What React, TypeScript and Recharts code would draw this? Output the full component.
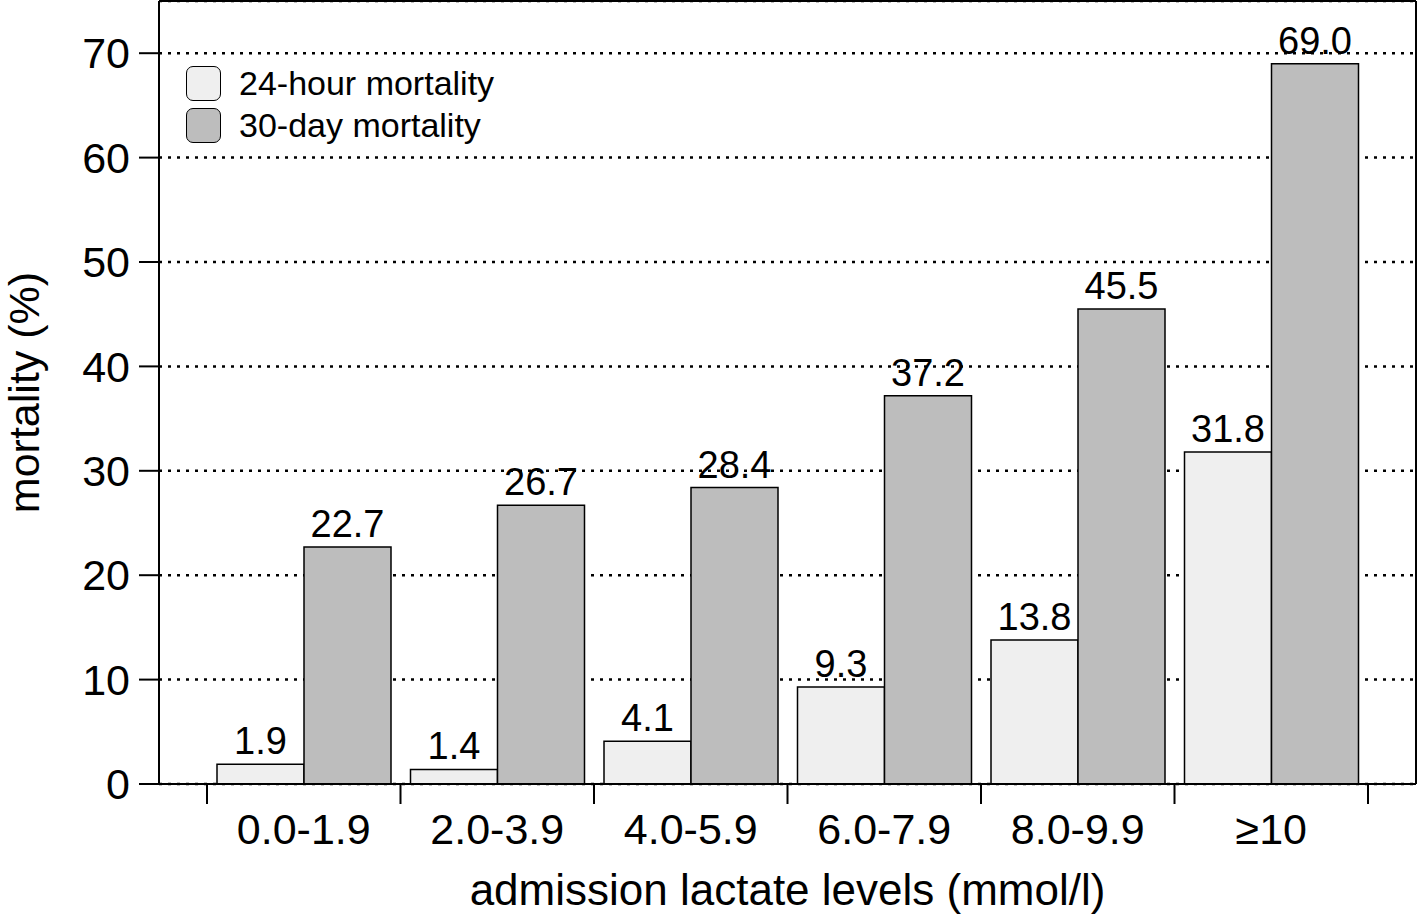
import React from 'react';
import { BarChart, Bar, XAxis, YAxis, CartesianGrid, LabelList, Legend } from 'recharts';

const categories = ['0.0-1.9', '2.0-3.9', '4.0-5.9', '6.0-7.9', '8.0-9.9', '≥10'];
const mortality24h = [1.9, 1.4, 4.1, 9.3, 13.8, 31.8];
const mortality30d = [22.7, 26.7, 28.4, 37.2, 45.5, 69.0];
const yTicks = [0, 10, 20, 30, 40, 50, 60, 70];

const data = categories.map((cat, i) => ({ cat, h24: mortality24h[i], d30: mortality30d[i] }));

const FONT = '"Liberation Sans", Arial, Helvetica, sans-serif';

const CatTick = (props: any) => {
  const { x, y, payload, index, visibleTicksCount } = props;
  const half = payload && typeof payload.offset === 'number' ? payload.offset : 0;
  const axisY = y - 29;
  const isLast = index === (visibleTicksCount ? visibleTicksCount - 1 : categories.length - 1);
  return (
    <g>
      <line x1={x - half} x2={x - half} y1={axisY} y2={axisY + 20} stroke="#000" strokeWidth={2} />
      {isLast && <line x1={x + half} x2={x + half} y1={axisY} y2={axisY + 20} stroke="#000" strokeWidth={2} />}
      <text x={x} y={y} dy="0.71em" textAnchor="middle" fontSize={43} fill="#000" fontFamily={FONT}>
        {payload.value}
      </text>
    </g>
  );
};

const LegendContent = (props: any) => {
  const { payload } = props;
  return (
    <div style={{ fontFamily: FONT }}>
      {(payload || []).map((p: any) => (
        <div key={p.value} style={{ display: 'flex', alignItems: 'center', height: 42 }}>
          <span
            style={{
              display: 'inline-block',
              width: 35,
              height: 35,
              boxSizing: 'border-box',
              border: '1.5px solid #000',
              borderRadius: 7,
              background: p.color,
            }}
          />
          <span style={{ marginLeft: 18, fontSize: 34, color: '#000', lineHeight: '35px' }}>{p.value}</span>
        </div>
      ))}
    </div>
  );
};

export default function App() {
  return (
    <div style={{ position: 'absolute', left: 0, top: 0, background: '#fff' }}>
      <BarChart
        width={1417}
        height={918}
        data={data}
        margin={{ top: 0, right: 0, left: 0, bottom: 0 }}
        barCategoryGap={10}
        barGap={0}
        style={{ fontFamily: FONT }}
      >
        <CartesianGrid vertical={false} stroke="#000" strokeDasharray="3 6" strokeWidth={2.5} />
        <XAxis
          dataKey="cat"
          padding={{ left: 48, right: 48 }}
          height={134}
          tickSize={20}
          tickMargin={9}
          tickLine={false}
          axisLine={{ stroke: '#000', strokeWidth: 2 }}
          tick={<CatTick />}
          interval={0}
          label={{ value: 'admission lactate levels (mmol/l)', position: 'insideBottom', offset: 13, fontSize: 44, fill: '#000' }}
        />
        <XAxis
          xAxisId="top"
          dataKey="cat"
          orientation="top"
          height={1}
          tick={false}
          tickLine={false}
          axisLine={{ stroke: '#000', strokeWidth: 2 }}
        />
        <YAxis
          domain={[0, 75]}
          ticks={yTicks}
          width={159}
          tickSize={20}
          tickMargin={9}
          allowDataOverflow
          tickLine={{ stroke: '#000', strokeWidth: 2 }}
          axisLine={{ stroke: '#000', strokeWidth: 2 }}
          tick={{ fontSize: 43, fill: '#000' }}
          label={{ value: 'mortality (%)', angle: -90, position: 'insideLeft', offset: 24, fontSize: 43, fill: '#000', style: { textAnchor: 'middle' } }}
        />
        <YAxis
          yAxisId="right"
          orientation="right"
          domain={[0, 75]}
          width={1}
          tick={false}
          tickLine={false}
          axisLine={{ stroke: '#000', strokeWidth: 2 }}
        />
        <Legend
          layout="vertical"
          align="center"
          verticalAlign="middle"
          content={<LegendContent />}
          wrapperStyle={{ left: 186, top: 62, width: 'auto', height: 'auto' }}
        />
        <Bar dataKey="h24" name="24-hour mortality" fill="#efefef" stroke="#000" strokeWidth={1.5} isAnimationActive={false}>
          <LabelList dataKey="h24" position="top" offset={10} fontSize={38} fill="#000" formatter={(v: any) => Number(v).toFixed(1)} />
        </Bar>
        <Bar dataKey="d30" name="30-day mortality" fill="#bdbdbd" stroke="#000" strokeWidth={1.5} isAnimationActive={false}>
          <LabelList dataKey="d30" position="top" offset={10} fontSize={38} fill="#000" formatter={(v: any) => Number(v).toFixed(1)} />
        </Bar>
      </BarChart>
    </div>
  );
}
